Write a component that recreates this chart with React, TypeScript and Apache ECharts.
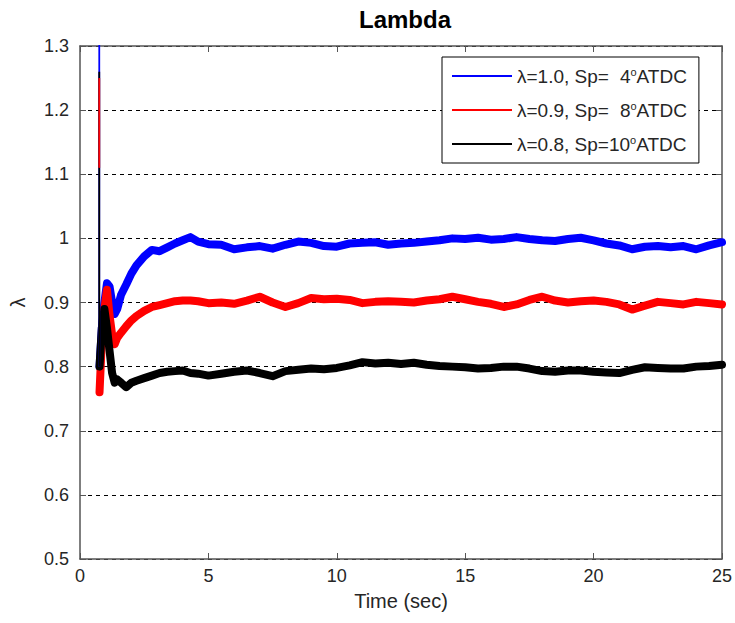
import React, { useEffect, useRef } from "react";
import * as echarts from "echarts";

// Sample times (s) shared by the three lambda traces
const time = [
  0.76, 0.85, 0.95, 1.05, 1.15, 1.25, 1.35, 1.45,
  1.6, 1.8, 2.0, 2.2, 2.5, 2.8, 3.1, 3.4, 3.7, 4.0, 4.3, 4.6,
  5.0, 5.5, 6.0, 6.5, 7.0, 7.5, 8.0, 8.5, 9.0, 9.5, 10.0, 10.5, 11.0, 11.5,
  12.0, 12.5, 13.0, 13.5, 14.0, 14.5, 15.0, 15.5, 16.0, 16.5, 17.0, 17.5,
  18.0, 18.5, 19.0, 19.5, 20.0, 20.5, 21.0, 21.5, 22.0, 22.5, 23.0, 23.5,
  24.0, 24.5, 25.0,
];

const lambda10 = [
  0.80, 0.86, 0.90, 0.93, 0.925, 0.90, 0.882, 0.89,
  0.912, 0.928, 0.945, 0.958, 0.972, 0.982, 0.980, 0.986, 0.992, 0.997, 1.002, 0.995,
  0.991, 0.990, 0.983, 0.986, 0.988, 0.984, 0.990, 0.995, 0.993, 0.988, 0.987, 0.992, 0.993, 0.994,
  0.990, 0.992, 0.993, 0.995, 0.997, 1.000, 0.999, 1.001, 0.998, 0.999, 1.002, 0.999,
  0.997, 0.996, 0.999, 1.001, 0.997, 0.992, 0.989, 0.983, 0.987, 0.988, 0.986, 0.988,
  0.983, 0.989, 0.994,
];

const lambda09 = [
  0.76, 0.84, 0.89, 0.92, 0.88, 0.85, 0.835, 0.845,
  0.853, 0.863, 0.872, 0.879, 0.887, 0.893, 0.896, 0.899, 0.902, 0.903, 0.903, 0.902,
  0.899, 0.900, 0.898, 0.903, 0.909, 0.900, 0.893, 0.899, 0.907, 0.905, 0.906, 0.904, 0.899, 0.901,
  0.902, 0.901, 0.900, 0.903, 0.905, 0.909, 0.905, 0.901, 0.898, 0.893, 0.897, 0.904,
  0.909, 0.903, 0.900, 0.902, 0.903, 0.901, 0.897, 0.889, 0.895, 0.901, 0.899, 0.897,
  0.901, 0.899, 0.897,
];

const lambda08 = [
  0.80, 0.86, 0.89, 0.86, 0.825, 0.79, 0.775, 0.78,
  0.775, 0.768, 0.775, 0.778, 0.782, 0.786, 0.79, 0.792, 0.793, 0.794, 0.79, 0.789,
  0.786, 0.789, 0.792, 0.794, 0.790, 0.785, 0.793, 0.795, 0.797, 0.796, 0.798, 0.802, 0.807, 0.805,
  0.806, 0.804, 0.806, 0.803, 0.801, 0.800, 0.799, 0.797, 0.798, 0.800, 0.800, 0.797,
  0.793, 0.792, 0.794, 0.794, 0.792, 0.791, 0.790, 0.795, 0.799, 0.798, 0.797, 0.797,
  0.800, 0.801, 0.803,
];

// Start-up spike of each trace (blue, red, black)
const spikeTime = 0.75;
const spikeTop = [1.6, 1.25, 1.26];
const spikeBottom = [0.8, 1.11, 0.8];

const lambdaLabels = ["1.0", "0.9", "0.8"];
const sparkLabels = ["4", "8", "10"];
const colors = ["#0000ff", "#ff0000", "#000000"];
const traces = [lambda10, lambda09, lambda08];

const FONT = "'Liberation Sans', Arial, Helvetica, sans-serif";
const names = lambdaLabels.map((l, i) => `λ=${l}, Sp=${sparkLabels[i]}°ATDC`);

export default function App() {
  const ref = useRef<HTMLDivElement>(null);

  useEffect(() => {
    if (!ref.current) return;
    const chart = echarts.init(ref.current, undefined, { renderer: "svg" });

    const bandSeries = traces.map((vals, i) => ({
      name: names[i],
      type: "line",
      data: time.map((t, k) => [t, vals[k]]),
      showSymbol: false,
      symbol: "none",
      clip: true,
      color: colors[i],
      lineStyle: { color: colors[i], width: 8, join: "round", cap: "round" },
      z: 2,
    }));

    const spikeOrder = [0, 2, 1];
    const spikeSeries = spikeOrder.map((i) => ({
      name: "spike" + i,
      type: "line",
      data: [
        [spikeTime, spikeTop[i]],
        [spikeTime, spikeBottom[i]],
      ],
      showSymbol: false,
      symbol: "none",
      clip: true,
      lineStyle: { color: colors[i], width: 1.8 },
      z: 3,
      silent: true,
    }));

    const axisColor = "#555";
    const labelColor = "#262626";

    chart.setOption({
      animation: false,
      backgroundColor: "#fff",
      title: {
        text: "Lambda",
        left: 400,
        textAlign: "center",
        top: 2,
        textStyle: { fontFamily: FONT, fontSize: 24, fontWeight: "bold", color: "#000" },
      },
      legend: {
        data: names,
        orient: "vertical",
        left: 442,
        top: 57,
        padding: [9, 12, 9, 10],
        itemWidth: 60,
        itemHeight: 2,
        itemGap: 14,
        icon: "rect",
        backgroundColor: "#fff",
        borderColor: "#000",
        borderWidth: 1,
        borderRadius: 0,
        selectedMode: false,
        formatter: (name: string) => {
          const i = names.indexOf(name);
          const pad = sparkLabels[i].length < 2 ? "{p| }" : "";
          return `{a|λ=${lambdaLabels[i]}, Sp=}${pad}{a|${sparkLabels[i]}}{s|o}{a|ATDC}`;
        },
        textStyle: {
          fontFamily: FONT,
          fontSize: 19,
          color: labelColor,
          lineHeight: 20,
          rich: {
            a: { fontFamily: FONT, fontSize: 19, color: labelColor, lineHeight: 20 },
            p: { fontFamily: FONT, fontSize: 19, color: labelColor, lineHeight: 20, width: 11 },
            s: { fontFamily: FONT, fontSize: 11, color: labelColor, lineHeight: 13, verticalAlign: "top" },
          },
        },
      },
      grid: { left: 77, right: 12, top: 46, bottom: 64, containLabel: false },
      xAxis: [
        {
          type: "value",
          min: 0,
          max: 25,
          interval: 5,
          name: "Time (sec)",
          nameLocation: "middle",
          nameGap: 32,
          nameTextStyle: { fontFamily: FONT, fontSize: 20, color: labelColor },
          axisLine: { show: true, onZero: false, lineStyle: { color: axisColor, width: 1.5 } },
          axisTick: { show: true, inside: true, length: 6, lineStyle: { color: axisColor } },
          axisLabel: { fontFamily: FONT, fontSize: 18, color: labelColor, margin: 8 },
          splitLine: { show: false },
        },
        {
          type: "value",
          position: "top",
          min: 0,
          max: 25,
          interval: 5,
          axisLine: { show: true, onZero: false, lineStyle: { color: axisColor, width: 1.5 } },
          axisTick: { show: true, inside: true, length: 6, lineStyle: { color: axisColor } },
          axisLabel: { show: false },
          splitLine: { show: false },
        },
      ],
      yAxis: [
        {
          type: "value",
          min: 0.5,
          max: 1.3,
          interval: 0.1,
          name: "λ",
          nameLocation: "middle",
          nameRotate: 90,
          nameGap: 52,
          nameTextStyle: { fontFamily: FONT, fontSize: 20, color: labelColor },
          axisLine: { show: true, onZero: false, lineStyle: { color: axisColor, width: 1.5 } },
          axisTick: { show: true, inside: true, length: 6, lineStyle: { color: axisColor } },
          axisLabel: {
            fontFamily: FONT,
            fontSize: 18,
            color: labelColor,
            margin: 11,
            formatter: (v: number) => String(Math.round(v * 10) / 10),
          },
          splitLine: { show: true, lineStyle: { color: "#000", width: 1, type: [4, 4] } },
        },
        {
          type: "value",
          position: "right",
          min: 0.5,
          max: 1.3,
          interval: 0.1,
          axisLine: { show: true, onZero: false, lineStyle: { color: axisColor, width: 1.5 } },
          axisTick: { show: true, inside: true, length: 6, lineStyle: { color: axisColor } },
          axisLabel: { show: false },
          splitLine: { show: false },
        },
      ],
      series: [...bandSeries, ...spikeSeries],
    });

    return () => chart.dispose();
  }, []);

  return (
    <div
      ref={ref}
      style={{ position: "fixed", left: 0, top: 0, width: 735, height: 623, background: "#fff" }}
    />
  );
}
